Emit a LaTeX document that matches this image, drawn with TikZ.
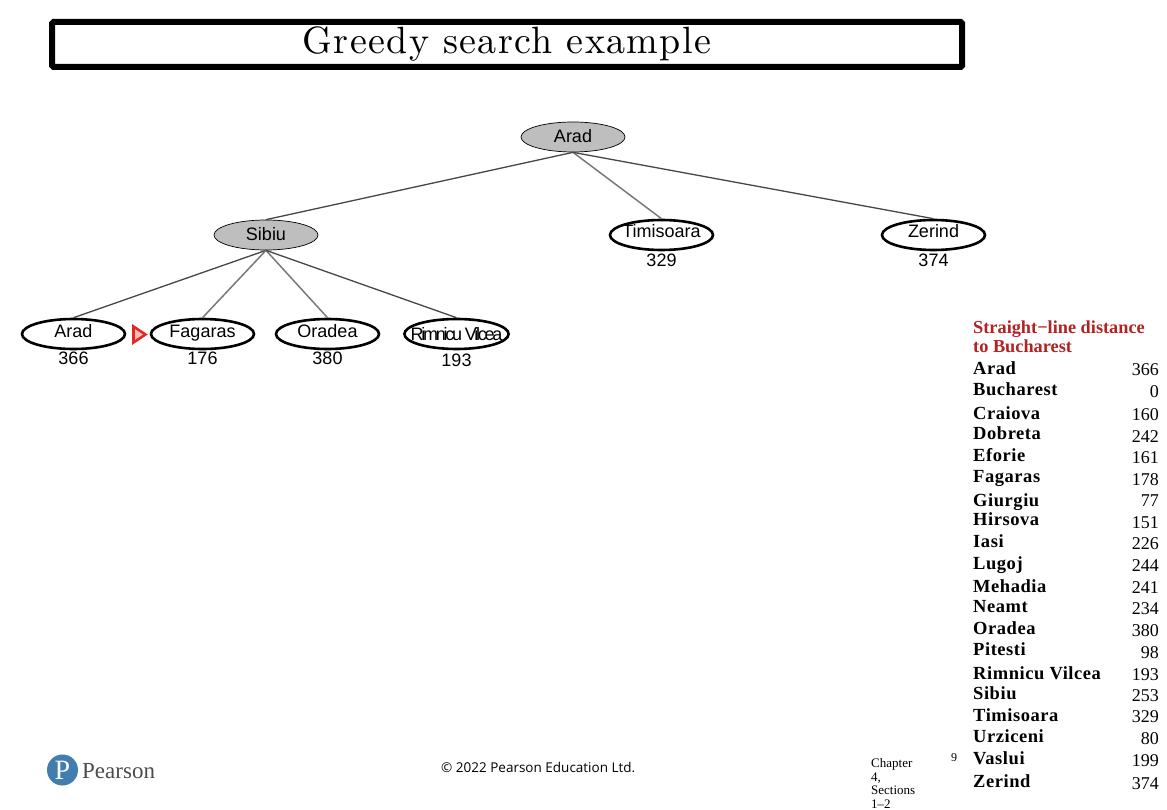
\documentclass[tikz,border=0pt]{standalone}
\usepackage{fontspec}
\usetikzlibrary{shapes.geometric}
\newfontfamily\arialfont{Liberation Sans}
\newfontfamily\timesfont{Liberation Serif}
\newfontfamily\footfont{Open Sans}
\newfontfamily\titlefont{lmroman10-regular.otf}
\definecolor{custcol_edge_dark}{RGB}{70, 70, 70}
\definecolor{custcol_edge_grey}{RGB}{120, 120, 120}
\definecolor{custcol_expanded}{RGB}{190, 190, 190}
\definecolor{custcol_red}{RGB}{178, 34, 34}
\definecolor{custcol_arrow}{RGB}{230, 40, 35}
\definecolor{custcol_blue}{RGB}{66, 125, 175}
\def\uptext#1{\smash{\raisebox{-3pt}{#1}}}
\tikzset{
  expanded/.style={ellipse, draw=black, line width=0.7pt, fill=custcol_expanded,
    minimum width=104pt, minimum height=30pt, inner sep=0pt,
    font=\arialfont\fontsize{18pt}{18pt}\selectfont},
  frontier/.style={ellipse, draw=black, line width=2.6pt, fill=white,
    minimum width=103pt, minimum height=30pt, inner sep=0pt, inner xsep=-4pt,
    font=\arialfont\fontsize{18pt}{18pt}\selectfont},
  hval/.style={inner sep=0pt, font=\arialfont\fontsize{18pt}{18pt}\selectfont},
  darkedge/.style={custcol_edge_dark, line width=1.3pt},
  greyedge/.style={custcol_edge_grey, line width=1.5pt},
  cityname/.style={inner sep=0pt, anchor=base west, font=\timesfont\bfseries\fontsize{18.5pt}{18.5pt}\selectfont\addfontfeature{LetterSpace=3}},
  cityval/.style={inner sep=0pt, anchor=base east, font=\timesfont\fontsize{18pt}{18pt}\selectfont},
}
\begin{document}
\begin{tikzpicture}[x=1pt,y=-1pt]
\useasboundingbox (0,0) rectangle (1167,810);
% title
\node[draw=black, line width=6pt, rounded corners=1.5pt, minimum width=910pt, minimum height=45pt,
  inner sep=0pt, font=\titlefont\fontsize{38pt}{38pt}\selectfont\addfontfeature{LetterSpace=3.6}] (titlebox) at (507,44.5) {Greedy search example};
% tree
\node[expanded] (arad) at (573,137) {\raisebox{2pt}{Arad}};
\node[expanded] (sibiu) at (266,235) {\raisebox{2pt}{Sibiu}};
\node[frontier] (timisoara) at (661.5,235) {\uptext{Timisoara}};
\node[frontier] (zerind) at (933.5,235) {\uptext{Zerind}};
\node[frontier] (arad2) at (73.5,334) {\uptext{Arad}};
\node[frontier] (fagaras) at (202.5,334) {\uptext{Fagaras}};
\node[frontier] (oradea) at (327.5,334) {\uptext{Oradea}};
\node[frontier, inner xsep=-9pt] (rimnicu) at (456.5,334) {\addfontfeature{LetterSpace=-12.5}Rimnicu Vilcea};
\node[hval] (timisoaraval) at (661.5,260) {329};
\node[hval] (zerindval) at (933.5,260) {374};
\node[hval] (arad2val) at (73.5,358) {366};
\node[hval] (fagarasval) at (202.5,358) {176};
\node[hval] (oradeaval) at (327.5,358) {380};
\node[hval] (rimnicuval) at (456.5,360) {193};
\draw[darkedge] (arad.south) -- (sibiu.north);
\draw[greyedge] (arad.south) -- (timisoara.north);
\draw[darkedge] (arad.south) -- (zerind.north);
\draw[darkedge] (sibiu.south) -- (arad2.north);
\draw[greyedge] (sibiu.south) -- (fagaras.north);
\draw[greyedge] (sibiu.south) -- (oradea.north);
\draw[darkedge] (sibiu.south) -- (rimnicu.north);
% current node marker
\draw[custcol_arrow, line width=2.6pt, fill=custcol_arrow!30, line join=miter] (133.5,326.5) -- (145.5,334.5) -- (133.5,342.5) -- cycle;
% distance table
\node[inner sep=0pt, anchor=base west, align=left, custcol_red,
  font=\timesfont\bfseries\fontsize{18.3pt}{18pt}\selectfont] (tablehead) at (973,352) {Straight−line distance\\to Bucharest};
\foreach \cname/\cval/\yname/\yval [count=\i] in {Arad/366/368/369, Bucharest/0/389/391, Craiova/160/413/414,
  Dobreta/242/433/436, Eforie/161/455/457, Fagaras/178/476/479, Giurgiu/77/500/500, Hirsova/151/519/522,
  Iasi/226/541/543, Lugoj/244/563/565, Mehadia/241/586/587, Neamt/234/606/608, Oradea/380/628/630,
  Pitesti/98/649/652, Rimnicu Vilcea/193/673/674, Sibiu/253/693/695, Timisoara/329/715/716,
  Urziceni/80/736/738, Vaslui/199/758/760, Zerind/374/781/783}
{
  \node[cityname] (city\i) at (973,\yname+6) {\cname};
  \node[cityval] (val\i) at (1159,\yval+6) {\cval};
}
% footer
\node[circle, fill=custcol_blue, minimum size=31pt, inner sep=0pt, text=white,
  font=\timesfont\fontsize{28pt}{28pt}\selectfont] (logo) at (62.5,770) {P};
\node[inner sep=0pt, anchor=base west, text=black!70, font=\timesfont\fontsize{23pt}{23pt}\selectfont] (pearson) at (82,778) {Pearson};
\node[inner sep=0pt, anchor=base west, font=\footfont\fontsize{13.5pt}{13.5pt}\selectfont] (copyright) at (441,772) {© 2022 Pearson Education Ltd.};
\node[inner sep=0pt, anchor=north west, align=left, font=\timesfont\fontsize{13pt}{13.5pt}\selectfont] (chapter) at (871,758.5) {Chapter\\4,\\Sections\\1–2};
\node[inner sep=0pt, font=\timesfont\fontsize{12pt}{12pt}\selectfont] (pagenum) at (954,758) {9};
\end{tikzpicture}
\end{document}
